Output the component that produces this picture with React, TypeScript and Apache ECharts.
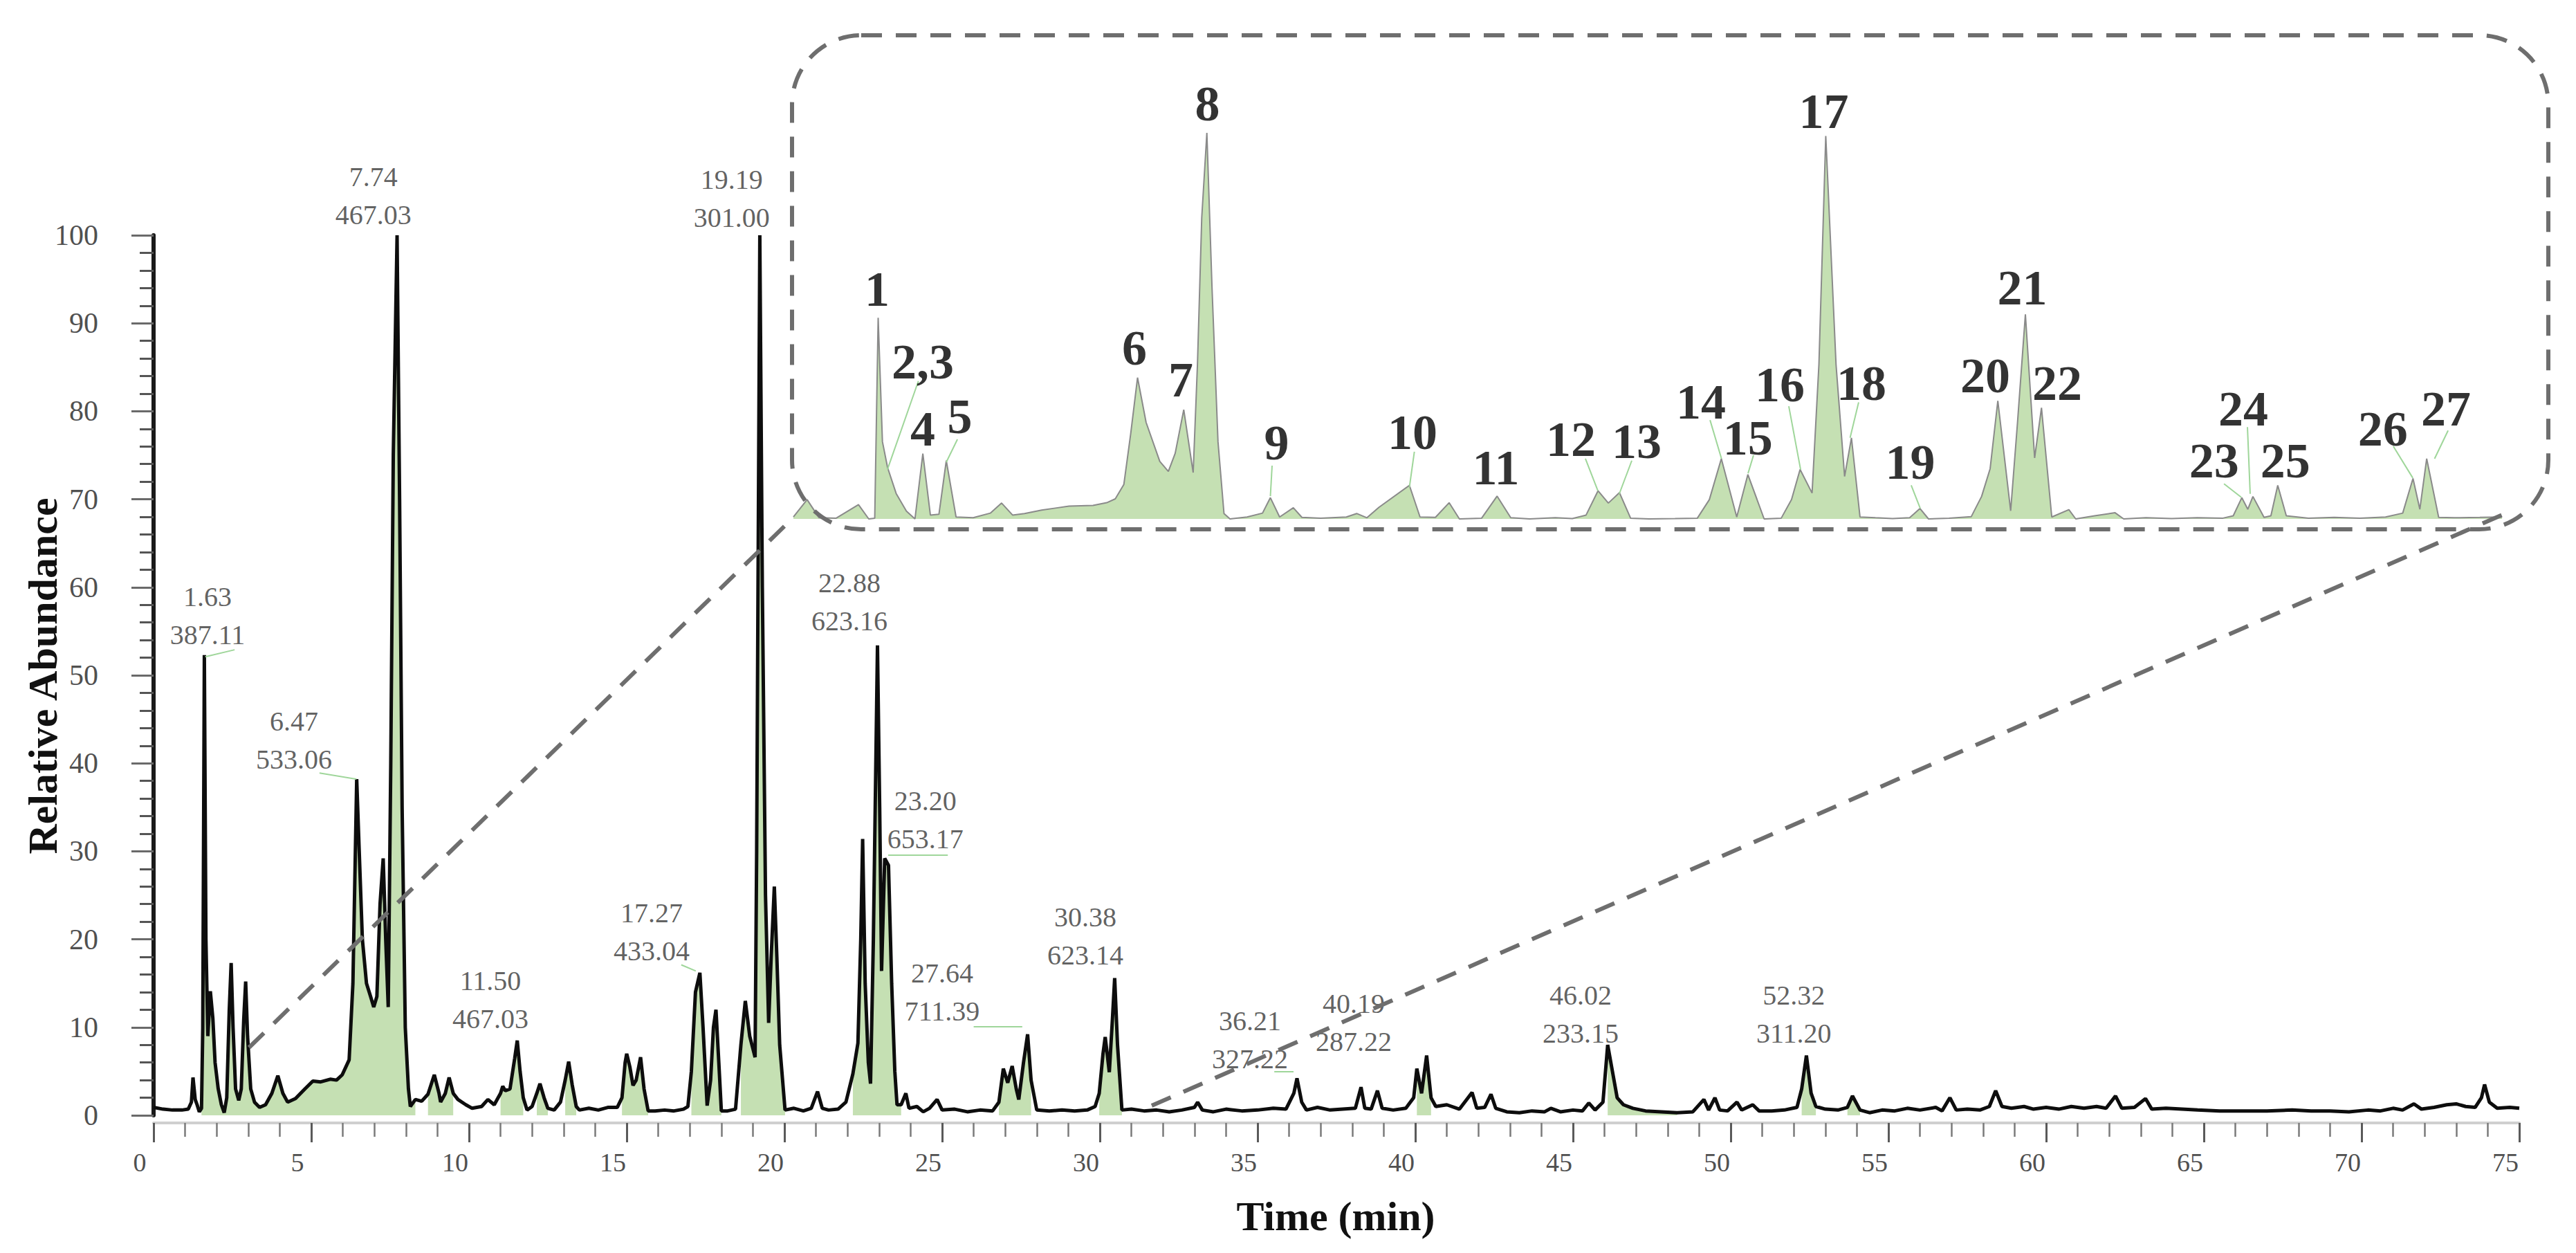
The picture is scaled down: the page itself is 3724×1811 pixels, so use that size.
import React, { useEffect, useRef } from 'react';
import * as echarts from 'echarts';

const FONT = "'Liberation Serif', 'Times New Roman', serif";

// Main total-ion chromatogram: [time (min), relative abundance]
const mainTrace: [number, number][] = [
  [0.0, 0.9], [0.3, 0.7], [0.6, 0.6], [0.9, 0.6], [1.1, 0.7], [1.2, 1.5], [1.25, 4.3], [1.32, 1.8], [1.38, 1.2], [1.45, 0.4],
  [1.52, 0.8], [1.56, 10], [1.61, 52.3], [1.66, 20], [1.72, 9], [1.8, 14.1], [1.88, 11], [1.95, 6], [2.05, 3], [2.15, 1.2],
  [2.24, 0.3], [2.32, 2], [2.4, 12], [2.46, 17.3], [2.52, 10], [2.6, 3], [2.7, 1.7], [2.78, 3], [2.86, 11], [2.92, 15.2],
  [2.98, 9], [3.08, 3], [3.2, 1.5], [3.36, 0.9], [3.55, 1.2], [3.75, 2.5], [3.94, 4.5], [4.1, 2.5], [4.25, 1.5], [4.5, 1.9],
  [4.8, 3.0], [5.05, 3.9], [5.3, 3.8], [5.6, 4.1], [5.8, 4.0], [5.98, 4.6], [6.2, 6.3], [6.32, 15], [6.44, 38.2], [6.52, 30],
  [6.62, 20], [6.75, 15], [6.88, 13.5], [6.98, 12.3], [7.08, 13.5], [7.18, 24], [7.28, 29.2], [7.36, 20], [7.44, 12.3], [7.52, 40],
  [7.6, 75], [7.72, 100], [7.8, 70], [7.88, 35], [7.98, 10], [8.08, 3], [8.14, 1.0], [8.3, 1.8], [8.5, 1.6], [8.7, 2.4],
  [8.9, 4.6], [9.05, 2.5], [9.1, 1.5], [9.25, 2.5], [9.37, 4.3], [9.5, 2.5], [9.65, 1.8], [9.9, 1.2], [10.1, 0.8], [10.4, 1.0],
  [10.6, 1.8], [10.8, 1.2], [11.0, 2.5], [11.07, 3.3], [11.15, 2.8], [11.3, 3.0], [11.45, 6.5], [11.53, 8.5], [11.62, 5], [11.72, 2],
  [11.84, 0.6], [12.0, 1.0], [12.15, 2.5], [12.25, 3.6], [12.38, 2.0], [12.5, 0.8], [12.7, 0.6], [12.9, 1.5], [13.05, 4], [13.16, 6.1],
  [13.27, 3.5], [13.4, 1.0], [13.5, 0.6], [13.8, 0.8], [14.1, 0.6], [14.4, 0.9], [14.7, 0.9], [14.85, 2], [14.95, 6], [15.0, 7.0],
  [15.1, 5.5], [15.2, 3.4], [15.3, 4], [15.44, 6.6], [15.55, 3], [15.68, 0.5], [15.9, 0.5], [16.2, 0.6], [16.5, 0.5], [16.8, 0.7],
  [16.94, 1], [17.05, 5], [17.18, 14], [17.32, 16.2], [17.42, 10], [17.55, 1.1], [17.66, 4], [17.75, 10], [17.83, 12], [17.92, 6],
  [18.0, 0.5], [18.2, 0.5], [18.45, 0.7], [18.62, 8], [18.76, 13], [18.9, 9], [19.07, 6.6], [19.12, 30], [19.22, 100], [19.3, 60],
  [19.4, 25], [19.5, 10.5], [19.58, 18], [19.68, 26], [19.76, 18], [19.85, 8], [20.02, 0.6], [20.3, 0.8], [20.6, 0.5], [20.85, 0.8],
  [21.05, 2.7], [21.2, 0.8], [21.4, 0.6], [21.7, 0.7], [21.95, 1.5], [22.17, 4.7], [22.33, 8.2], [22.42, 20], [22.48, 31.4], [22.56, 15],
  [22.66, 6], [22.73, 3.6], [22.82, 20], [22.95, 53.4], [23.02, 35], [23.08, 16.4], [23.18, 29.2], [23.3, 28.4], [23.4, 15], [23.5, 5],
  [23.57, 1.2], [23.7, 1.2], [23.85, 2.5], [23.95, 0.8], [24.2, 1.0], [24.4, 0.4], [24.6, 0.8], [24.84, 1.8], [25.0, 0.6], [25.4, 0.7],
  [25.8, 0.4], [26.2, 0.6], [26.6, 0.5], [26.8, 1.5], [26.94, 5.3], [27.08, 3.7], [27.22, 5.6], [27.35, 3], [27.43, 1.8], [27.58, 6],
  [27.71, 9.2], [27.82, 4], [28.0, 0.6], [28.4, 0.5], [28.8, 0.6], [29.2, 0.5], [29.6, 0.6], [29.85, 1], [29.98, 2.5], [30.1, 7],
  [30.17, 8.9], [30.3, 4.9], [30.4, 11], [30.47, 15.6], [30.56, 8], [30.7, 0.6], [31.0, 0.7], [31.4, 0.5], [31.8, 0.6], [32.2, 0.4],
  [32.6, 0.6], [33.0, 0.9], [33.1, 1.5], [33.25, 0.6], [33.6, 0.4], [34.0, 0.7], [34.5, 0.5], [35.0, 0.6], [35.5, 0.8], [35.9, 0.7],
  [36.15, 2.5], [36.25, 4.2], [36.4, 1.5], [36.55, 0.6], [36.9, 0.9], [37.3, 0.6], [37.7, 0.7], [38.1, 0.8], [38.28, 3.2], [38.4, 0.8],
  [38.6, 0.7], [38.8, 2.8], [38.95, 0.8], [39.3, 0.6], [39.7, 0.8], [39.95, 2], [40.05, 5.3], [40.2, 2.5], [40.36, 6.8], [40.5, 2],
  [40.65, 1.0], [41.0, 1.2], [41.4, 0.7], [41.8, 2.6], [41.95, 0.8], [42.2, 0.9], [42.4, 2.4], [42.55, 0.8], [42.9, 0.4], [43.3, 0.3],
  [43.7, 0.5], [44.1, 0.4], [44.3, 0.8], [44.6, 0.4], [45.0, 0.6], [45.3, 0.5], [45.5, 1.4], [45.7, 0.6], [45.95, 1.5], [46.1, 8.0],
  [46.25, 5], [46.4, 2], [46.6, 1.2], [46.9, 0.8], [47.3, 0.5], [47.8, 0.4], [48.3, 0.3], [48.8, 0.4], [49.15, 1.8], [49.3, 0.6],
  [49.5, 2.0], [49.65, 0.6], [49.9, 0.5], [50.2, 1.5], [50.35, 0.6], [50.7, 1.2], [50.9, 0.5], [51.3, 0.5], [51.7, 0.6], [52.1, 0.9],
  [52.25, 3], [52.4, 6.8], [52.55, 2.5], [52.7, 1.0], [53.0, 0.7], [53.4, 0.6], [53.7, 0.9], [53.86, 2.2], [54.1, 0.6], [54.4, 0.3],
  [54.8, 0.6], [55.2, 0.5], [55.6, 0.8], [56.0, 0.6], [56.5, 0.9], [56.7, 0.5], [56.95, 2.0], [57.15, 0.6], [57.5, 0.7], [57.9, 0.6],
  [58.2, 1.0], [58.4, 2.8], [58.6, 1.0], [58.9, 0.8], [59.3, 1.0], [59.6, 0.7], [60.0, 0.9], [60.4, 0.7], [60.8, 1.0], [61.2, 0.8],
  [61.6, 1.0], [61.9, 0.8], [62.2, 2.2], [62.4, 0.8], [62.8, 0.9], [63.15, 1.9], [63.35, 0.7], [63.8, 0.8], [64.3, 0.7], [64.8, 0.6],
  [65.5, 0.5], [66.3, 0.5], [67.0, 0.5], [67.8, 0.6], [68.4, 0.5], [69.0, 0.5], [69.6, 0.4], [70.2, 0.6], [70.6, 0.5], [71.0, 0.8],
  [71.3, 0.6], [71.66, 1.3], [71.9, 0.7], [72.3, 0.9], [72.7, 1.2], [73.0, 1.3], [73.3, 1.0], [73.6, 0.9], [73.8, 2], [73.9, 3.5],
  [74.05, 1.5], [74.3, 0.8], [74.7, 0.9], [75.0, 0.8],
];

// Time windows whose area is shaded green in the main chromatogram
const greenRanges: [number, number][] = [
  [1.5, 8.3], [8.7, 9.6], [10.9, 11.8], [12.1, 12.5], [13.0, 13.4], [14.85, 15.7], [17.0, 18.05],
  [18.6, 20.05], [22.1, 23.7], [26.8, 27.95], [29.9, 30.7], [40.0, 40.5], [46.0, 48.5], [52.2, 52.7], [53.7, 54.1],
];

// Peak annotations (retention time / m/z) and their label anchor [time, abundance]
const peakTimes = ['1.63', '6.47', '7.74', '11.50', '17.27', '19.19', '22.88', '23.20', '27.64', '30.38', '36.21', '40.19', '46.02', '52.32'];
const peakMz = ['387.11', '533.06', '467.03', '467.03', '433.04', '301.00', '623.16', '653.17', '711.39', '623.14', '327.22', '287.22', '233.15', '311.20'];
const peakLabelPos: [number, number][] = [
  [1.71, 56.8], [4.45, 42.6], [6.97, 104.5], [10.68, 13.1], [15.79, 20.8], [18.33, 104.2], [22.06, 58.3],
  [24.47, 33.6], [25.0, 14.0], [29.54, 20.4], [34.76, 8.6], [38.05, 10.5], [45.24, 11.5], [52.0, 11.5],
];
const mainLeaders: [number, number][][] = [
  [[1.64, 52.1], [2.57, 52.9]], [[5.26, 38.9], [6.43, 38.2]], [[16.73, 17.1], [17.19, 16.4]],
  [[23.29, 29.6], [25.18, 29.6]], [[26.0, 10.1], [27.54, 10.1]], [[35.53, 5.0], [36.14, 5.0]],
];

// Magnified inset trace: [relative position 0-100, relative height 0-100]
const insetTrace: [number, number][] = [
  [0, 0.5], [0.8, 5.0], [1.5, 0.3], [2.5, 0.2], [3.8, 3.7], [4.4, 0], [4.75, 0.2], [4.95, 52.1], [5.2, 20], [5.5, 13.3],
  [6.0, 6.6], [6.6, 2], [7.1, 0], [7.56, 16.9], [8.0, 1], [8.5, 1.2], [8.93, 15.1], [9.5, 0.5], [10.5, 0.3], [11.5, 1.5],
  [12.16, 4.1], [12.8, 1.0], [13.5, 1.4], [14.5, 2.3], [15.3, 2.8], [16.1, 3.3], [17.5, 3.5], [18.3, 4.2], [18.8, 5.2], [19.3, 8.9],
  [19.7, 22], [20.1, 36.6], [20.6, 25], [21.4, 14.9], [21.9, 12.3], [22.3, 17], [22.8, 28.3], [23.35, 12], [23.6, 40], [23.85, 78],
  [24.15, 100], [24.45, 60], [24.8, 20], [25.15, 1.4], [25.5, 0], [26.5, 0.5], [27.4, 1.5], [27.86, 5.5], [28.4, 0.5], [29.2, 2.9],
  [29.7, 0.4], [30.8, 0.2], [32.3, 0.5], [32.9, 1.4], [33.5, 0.3], [34.2, 3], [35.98, 8.7], [36.6, 0.5], [37.5, 0.4], [38.3, 4.2],
  [38.9, 0], [40.2, 0.2], [41.1, 5.9], [41.9, 0.3], [43, 0], [44.5, 0.3], [45.5, 0.1], [46.3, 1], [47.0, 7.3], [47.6, 4.1],
  [48.25, 6.8], [48.9, 0.2], [50, 0], [51.5, 0.1], [52.8, 0.2], [53.5, 5], [54.2, 15.6], [55.1, 0.5], [55.75, 11.5], [56.7, 0],
  [57.7, 0.2], [58.3, 5], [58.8, 12.8], [59.5, 6.7], [59.9, 40], [60.3, 99.2], [60.9, 40], [61.4, 11], [61.8, 21], [62.3, 0.5],
  [63.2, 0.3], [64.2, 0.1], [65.2, 0.3], [65.8, 2.7], [66.3, 0], [67.5, 0.2], [68.8, 0.6], [69.4, 5.8], [69.9, 13], [70.35, 30.6],
  [71.1, 2.1], [71.5, 25], [71.96, 53], [72.5, 15.8], [72.9, 28.8], [73.5, 0.5], [74.5, 2.4], [74.9, 0], [76, 0.8], [77.2, 1.6],
  [77.7, 0], [79, 0.3], [80.5, 0.1], [82, 0.3], [83.5, 0.2], [84.1, 0.8], [84.6, 5.5], [84.95, 2.5], [85.25, 5.8], [85.9, 0.4],
  [86.3, 0.8], [86.7, 8.7], [87.2, 0.8], [88.5, 0.2], [90, 0.4], [91.5, 0.2], [93, 0.5], [94.0, 1.5], [94.6, 10.5], [95.0, 2.5],
  [95.4, 15.6], [96.1, 0.4], [97, 0.3], [98.5, 0.4], [99.8, 0.5],
];

const insetNames = ['1', '2,3', '4', '5', '6', '7', '8', '9', '10', '11', '12', '13', '14', '15', '16', '17', '18', '19', '20', '21', '22', '23', '24', '25', '26', '27'];
const insetLabelPos: [number, number][] = [
  [4.89, 59.5], [7.56, 40.7], [7.56, 23.3], [9.72, 26.5], [19.92, 44.3], [22.63, 36.1], [24.18, 107.5], [28.22, 19.7],
  [36.16, 22.4], [41.03, 13.3], [45.41, 20.6], [49.25, 20.1], [53.01, 30.2], [55.75, 21.0], [57.62, 34.8], [60.18, 105.6],
  [62.38, 35.2], [65.23, 14.7], [69.62, 37.1], [71.78, 59.9], [73.82, 35.2], [82.98, 15.1], [84.69, 28.5], [87.14, 15.1],
  [92.84, 23.3], [96.53, 28.5],
];
const insetLeaders: [number, number][][] = [
  [[7.3, 35.7], [5.49, 12.8]], [[9.58, 20.6], [8.93, 14.7]], [[27.96, 13.8], [27.86, 5.9]], [[36.27, 17.4], [35.98, 8.2]],
  [[46.26, 15.6], [46.99, 7.3]], [[48.97, 15.1], [48.24, 6.5]], [[53.54, 25.6], [54.21, 15.6]], [[56.08, 16.5], [55.76, 11.8]],
  [[58.14, 29.2], [58.83, 12.8]], [[62.22, 30.2], [61.72, 21.0]], [[65.29, 8.7], [65.82, 2.7]], [[83.56, 9.1], [84.57, 5.6]],
  [[84.93, 23.8], [85.09, 6.5]], [[93.45, 18.8], [94.59, 10.6]], [[96.65, 22.9], [95.86, 15.6]],
];

const GREEN = '#c5e0b3';
const DASH = '#6e6e6e';

export default function App() {
  const ref = useRef<HTMLDivElement>(null);
  useEffect(() => {
    document.body.style.margin = '0';
    const chart = echarts.init(ref.current as HTMLDivElement, null, { renderer: 'svg', width: 3724, height: 1811 });
    const inGreen = (t: number) => greenRanges.some(([a, b]) => t >= a && t <= b);
    const fillData = mainTrace.map(([t, v]) => [t, inGreen(t) ? v : '-']);

    const option: any = {
      animation: false,
      backgroundColor: '#ffffff',
      grid: [
        { left: 222, right: 82, top: 340, bottom: 199, containLabel: false, outerBoundsMode: 'none' },
        { left: 1147, right: 102, top: 192, bottom: 1061, containLabel: false, outerBoundsMode: 'none' },
      ],
      xAxis: [
        {
          type: 'value', gridIndex: 0, min: 0, max: 75, interval: 5, offset: 11,
          axisLine: { show: true, onZero: false, lineStyle: { color: '#cfcfcf', width: 4 } },
          axisTick: { show: true, length: 28, lineStyle: { color: '#5a5a5a', width: 3 } },
          minorTick: { show: true, splitNumber: 5, length: 20, lineStyle: { color: '#7a7a7a', width: 2.5 } },
          axisLabel: { fontFamily: FONT, fontSize: 38, color: '#505050', margin: 38, padding: [0, 40, 0, 0] },
          splitLine: { show: false }, minorSplitLine: { show: false },
        },
        { type: 'value', gridIndex: 1, min: 0, max: 100, show: false },
      ],
      yAxis: [
        {
          type: 'value', gridIndex: 0, min: 0, max: 100, interval: 10,
          axisLine: { show: true, onZero: false, lineStyle: { color: '#1a1a1a', width: 6 } },
          axisTick: { show: true, length: 32, lineStyle: { color: '#6a6a6a', width: 3 } },
          minorTick: { show: true, splitNumber: 5, length: 20, lineStyle: { color: '#555555', width: 3 } },
          axisLabel: { fontFamily: FONT, fontSize: 42, color: '#505050', margin: 80 },
          splitLine: { show: false }, minorSplitLine: { show: false },
        },
        { type: 'value', gridIndex: 1, min: 0, max: 100, show: false },
      ],
      series: [
        {
          type: 'line', xAxisIndex: 0, yAxisIndex: 0, data: fillData, symbol: 'none', connectNulls: false,
          lineStyle: { width: 0, opacity: 0 }, areaStyle: { color: GREEN, opacity: 1 }, silent: true, z: 2,
        },
        {
          type: 'line', xAxisIndex: 0, yAxisIndex: 0, data: mainTrace, symbol: 'none',
          lineStyle: { color: '#0d0d0d', width: 5 }, silent: true, z: 3,
        },
        {
          type: 'lines', coordinateSystem: 'cartesian2d', xAxisIndex: 0, yAxisIndex: 0,
          data: mainLeaders.map((c) => ({ coords: c })),
          lineStyle: { color: '#9fd69a', width: 2, opacity: 1, curveness: 0 }, silent: true, z: 4,
        },
        {
          type: 'scatter', xAxisIndex: 0, yAxisIndex: 0, clip: false, symbolSize: 1, silent: true, z: 5,
          itemStyle: { color: 'rgba(0,0,0,0)' },
          data: peakLabelPos.map((p, i) => ({ value: p, name: peakTimes[i] + '\n' + peakMz[i] })),
          label: {
            show: true, position: 'inside', formatter: '{b}', fontFamily: FONT, fontSize: 40,
            lineHeight: 55, color: '#383838', align: 'center', verticalAlign: 'middle',
          },
        },
        {
          type: 'line', xAxisIndex: 1, yAxisIndex: 1, data: insetTrace, symbol: 'none',
          lineStyle: { color: '#8a8a8a', width: 2 }, areaStyle: { color: GREEN, opacity: 1 }, silent: true, z: 2,
        },
        {
          type: 'lines', coordinateSystem: 'cartesian2d', xAxisIndex: 1, yAxisIndex: 1,
          data: insetLeaders.map((c) => ({ coords: c })),
          lineStyle: { color: '#9fd69a', width: 2, opacity: 1, curveness: 0 }, silent: true, z: 4,
        },
        {
          type: 'scatter', xAxisIndex: 1, yAxisIndex: 1, clip: false, symbolSize: 1, silent: true, z: 5,
          itemStyle: { color: 'rgba(0,0,0,0)' },
          data: insetLabelPos.map((p, i) => ({ value: p, name: insetNames[i] })),
          label: {
            show: true, position: 'inside', formatter: '{b}', fontFamily: FONT, fontSize: 72,
            fontWeight: 'bold', color: '#000000', align: 'center', verticalAlign: 'middle',
          },
        },
      ],
      graphic: [
        {
          type: 'rect', z: 10, silent: true,
          shape: { x: 1145, y: 51, width: 2539, height: 714, r: 100 },
          style: { fill: 'none', stroke: DASH, lineWidth: 6, lineDash: [30, 20] },
        },
        {
          type: 'line', z: 10, silent: true,
          shape: { x1: 360, y1: 1514, x2: 1147, y2: 748 },
          style: { stroke: DASH, lineWidth: 6, lineDash: [30, 20] },
        },
        {
          type: 'line', z: 10, silent: true,
          shape: { x1: 1665, y1: 1598, x2: 3622, y2: 742 },
          style: { stroke: DASH, lineWidth: 6, lineDash: [30, 20] },
        },
        {
          type: 'text', x: 62, y: 977, rotation: Math.PI / 2, silent: true,
          style: {
            text: 'Relative Abundance', fontFamily: FONT, fontSize: 60, fontWeight: 'bold',
            fill: '#111111', align: 'center', verticalAlign: 'middle',
          },
        },
        {
          type: 'text', x: 1931, y: 1758, silent: true,
          style: {
            text: 'Time (min)', fontFamily: FONT, fontSize: 60, fontWeight: 'bold',
            fill: '#111111', align: 'center', verticalAlign: 'middle',
          },
        },
      ],
    };
    chart.setOption(option);
    return () => chart.dispose();
  }, []);
  return (
    <div
      ref={ref}
      style={{ position: 'absolute', left: 0, top: 0, width: 3724, height: 1811, background: '#ffffff' }}
    />
  );
}
